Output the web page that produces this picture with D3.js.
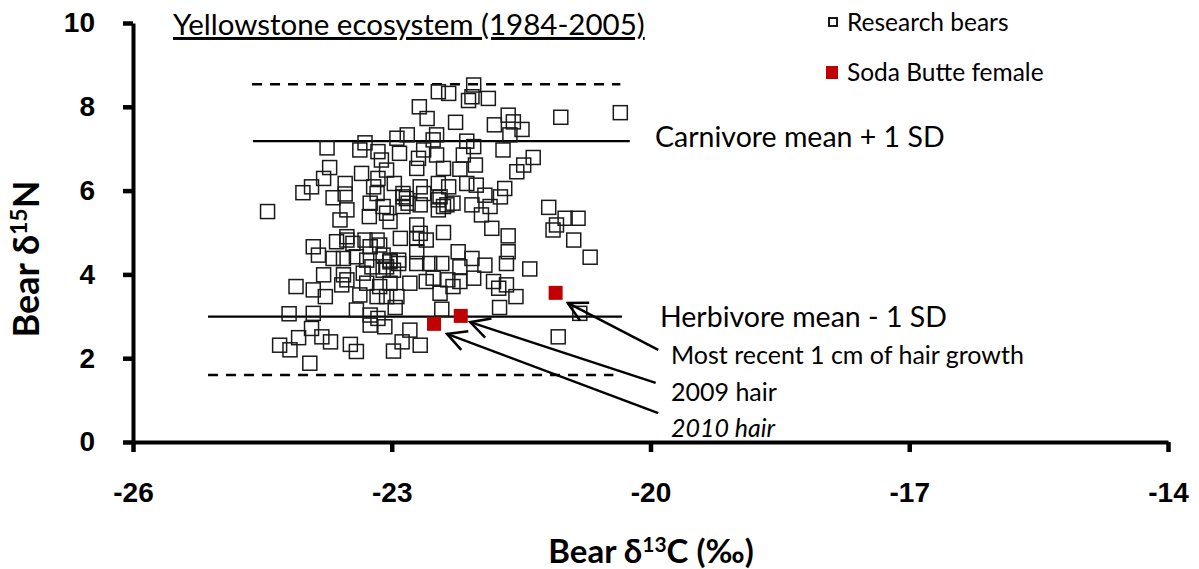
<!DOCTYPE html>
<html>
<head>
<meta charset="utf-8">
<script src="https://cdn.jsdelivr.net/npm/d3@7"></script>
<style>
  body { margin: 0; background: #fff; }
  svg { display: block; }
</style>
</head>
<body>
<svg id="chart" width="1199" height="569"></svg>
<script>
// research bears, d13C (x) and d15N (y)
var bearC = [
  -22.05, -22.46, -22.34, -22.07, -22.11, -21.88, -22.68, -22.59, -22.26, -21.81,
  -21.65, -21.59, -21.49, -21.63, -21.04, -20.35, -23.75, -23.31, -23.37, -23.16,
  -22.94, -22.82, -22.91, -22.63, -22.52, -22.48, -22.48, -22.13, -22.05, -22.17,
  -21.71, -21.36, -21.47, -21.55, -23.12, -23.06, -22.69, -22.71, -22.40, -22.21,
  -22.03, -23.72, -23.79, -23.93, -24.03, -23.54, -23.54, -23.35, -23.21, -23.16,
  -22.97, -22.87, -22.83, -22.67, -22.63, -22.46, -22.44, -22.40, -22.34, -22.29,
  -22.13, -22.02, -21.92, -21.69, -21.74, -21.86, -22.07, -22.87, -22.67, -23.10,
  -23.25, -23.52, -23.68, -24.44, -23.60, -23.26, -23.06, -23.02, -22.71, -22.67,
  -22.40, -21.96, -21.84, -21.65, -21.18, -20.99, -20.84, -21.09, -21.13, -20.89,
  -20.70, -23.91, -23.85, -23.64, -23.52, -23.45, -23.31, -23.17, -23.14, -23.25,
  -22.90, -22.71, -22.60, -23.68, -23.56, -23.41, -23.29, -23.10, -23.02, -22.92,
  -22.98, -23.10, -23.23, -22.71, -22.71, -22.56, -22.42, -22.23, -22.07, -22.21,
  -21.92, -21.65, -21.67, -21.40, -23.79, -23.56, -23.52, -23.58, -23.33, -23.29,
  -23.14, -23.02, -22.79, -22.60, -22.52, -22.35, -22.29, -22.21, -22.05, -21.82,
  -21.67, -21.76, -24.11, -23.91, -23.77, -23.37, -23.17, -23.06, -22.94, -22.44,
  -21.56, -24.19, -23.91, -23.41, -23.25, -23.16, -22.96, -22.42, -21.75, -23.25,
  -23.08, -23.93, -24.08, -23.81, -23.71, -24.30, -24.18, -23.48, -23.41, -22.98,
  -22.88, -22.79, -22.67, -21.07, -20.82, -23.95, -22.87, -22.81, -22.46, -22.46,
  -22.36, -23.02, -22.92, -23.06, -23.52, -23.17
];
var bearN = [
  8.52, 8.36, 8.32, 8.24, 8.15, 8.20, 8.00, 7.72, 7.63, 7.57,
  7.80, 7.64, 7.46, 7.33, 7.75, 7.86, 7.02, 7.14, 6.97, 6.93,
  7.25, 7.33, 6.89, 6.97, 7.21, 7.33, 6.85, 7.18, 7.05, 6.85,
  6.97, 6.79, 6.61, 6.45, 6.73, 6.49, 6.77, 6.53, 6.53, 6.51,
  6.61, 6.55, 6.29, 6.09, 5.95, 6.17, 5.92, 6.41, 6.09, 6.29,
  6.17, 5.93, 5.81, 6.09, 5.93, 6.17, 5.85, 5.62, 6.09, 5.70,
  6.17, 6.13, 5.89, 6.05, 5.85, 5.62, 5.66, 5.62, 5.66, 5.62,
  5.70, 5.54, 5.83, 5.50, 5.30, 5.38, 5.46, 5.26, 5.18, 4.98,
  5.00, 5.42, 5.10, 4.92, 5.60, 5.34, 5.34, 5.18, 5.06, 4.82,
  4.41, 4.66, 4.46, 4.78, 4.82, 4.74, 4.82, 4.82, 4.70, 4.66,
  4.86, 4.86, 4.82, 4.38, 4.38, 4.42, 4.34, 4.46, 4.34, 4.26,
  4.10, 4.10, 4.18, 4.54, 4.26, 4.26, 4.26, 4.54, 4.38, 4.18,
  4.22, 4.54, 4.26, 4.13, 3.99, 3.99, 3.87, 3.75, 4.03, 3.79,
  3.71, 3.79, 3.79, 3.83, 3.91, 3.87, 3.71, 3.83, 3.91, 3.83,
  3.75, 3.67, 3.71, 3.63, 3.47, 3.51, 3.47, 3.47, 3.47, 3.55,
  3.47, 3.06, 3.07, 3.15, 3.03, 2.95, 3.21, 3.17, 3.21, 2.79,
  2.75, 2.71, 2.49, 2.51, 2.39, 2.31, 2.20, 2.33, 2.16, 2.17,
  2.39, 2.67, 2.31, 2.51, 3.07, 1.88, 5.85, 5.70, 5.78, 5.54,
  5.66, 4.30, 4.34, 4.18, 4.90, 5.93
];

// Soda Butte female
var sodaLabels = ["Most recent 1 cm of hair growth", "2009 hair", "2010 hair"];
var sodaC = [-21.10, -22.20, -22.51];
var sodaN = [3.56, 3.01, 2.82];

// reference lines (d15N level, x start, x end)
var refNames = ["Carnivore mean + 1 SD upper", "Carnivore mean + 1 SD", "Herbivore mean - 1 SD", "Herbivore mean - 1 SD lower"];
var refN = [8.54, 7.18, 2.99, 1.60];
var refFrom = [-24.62, -24.61, -25.13, -25.13];
var refTo = [-20.35, -20.24, -20.33, -20.43];
var refDashed = [true, false, false, true];

// arrow annotations: label end -> tip
var arrowFromC = [-19.91, -19.94, -19.91];
var arrowFromN = [2.20, 1.41, 0.69];
var arrowToC = [-20.96, -22.09, -22.36];
var arrowToN = [3.32, 2.86, 2.58];

var xTicks = [-26, -23, -20, -17, -14];
var yTicks = [0, 2, 4, 6, 8, 10];

var svg = d3.select("#chart");

var x = d3.scaleLinear()
    .domain([-26, -14])
    .range([133, 1168]);

var y = d3.scaleLinear()
    .domain([0, 10])
    .range([442, 23]);

var bears = bearC.map(function(c, i) { return {c: c, n: bearN[i]}; });
var soda = sodaC.map(function(c, i) { return {c: c, n: sodaN[i], label: sodaLabels[i]}; });
var refs = refN.map(function(n, i) {
    return {name: refNames[i], n: n, from: refFrom[i], to: refTo[i], dashed: refDashed[i]};
});

// reference lines
svg.selectAll(".ref")
    .data(refs)
    .enter().append("line")
    .attr("class", "ref")
    .attr("x1", function(d) { return x(d.from); })
    .attr("x2", function(d) { return x(d.to); })
    .attr("y1", function(d) { return y(d.n); })
    .attr("y2", function(d) { return y(d.n); })
    .style("stroke", "#000")
    .style("stroke-width", function(d) { return d.dashed ? 2.5 : 2.2; })
    .style("stroke-dasharray", function(d) { return d.dashed ? "10,8" : null; });

// research bears
svg.selectAll(".dot")
    .data(bears)
    .enter().append("rect")
    .attr("class", "dot")
    .attr("x", function(d) { return x(d.c) - 7; })
    .attr("y", function(d) { return y(d.n) - 7; })
    .attr("width", 14)
    .attr("height", 14)
    .style("fill", "none")
    .style("stroke", "#1a1a1a")
    .style("stroke-width", 1.5);

// soda butte female
svg.selectAll(".soda")
    .data(soda)
    .enter().append("rect")
    .attr("class", "soda")
    .attr("x", function(d) { return x(d.c) - 7; })
    .attr("y", function(d) { return y(d.n) - 7; })
    .attr("width", 14)
    .attr("height", 14)
    .style("fill", "#c00000");

// arrows
svg.append("defs").append("marker")
    .attr("id", "head")
    .attr("markerUnits", "userSpaceOnUse")
    .attr("viewBox", "-22 -12 24 24")
    .attr("refX", 0)
    .attr("refY", 0)
    .attr("markerWidth", 24)
    .attr("markerHeight", 24)
    .attr("orient", "auto")
    .append("path")
    .attr("d", "M-19,-10L0,0L-19,10")
    .style("fill", "none")
    .style("stroke", "#000")
    .style("stroke-width", 2.5);

svg.selectAll(".arrow")
    .data(arrowFromC)
    .enter().append("line")
    .attr("class", "arrow")
    .attr("x1", function(d) { return x(d); })
    .attr("y1", function(d, i) { return y(arrowFromN[i]); })
    .attr("x2", function(d, i) { return x(arrowToC[i]); })
    .attr("y2", function(d, i) { return y(arrowToN[i]); })
    .attr("marker-end", "url(#head)")
    .style("stroke", "#000")
    .style("stroke-width", 2.5);

// axes
var xAxis = d3.axisBottom(x).tickValues(xTicks).tickFormat(function(d) { return "" + d; })
    .tickSize(10).tickPadding(30).tickSizeOuter(0);
var yAxis = d3.axisLeft(y).tickValues(yTicks).tickFormat(function(d) { return "" + d; })
    .tickSize(10).tickPadding(28).tickSizeOuter(0);

var gx = svg.append("g")
    .attr("class", "x axis")
    .attr("transform", "translate(0," + y(0) + ")")
    .call(xAxis);

var gy = svg.append("g")
    .attr("class", "y axis")
    .attr("transform", "translate(" + x(-26) + ",0)")
    .call(yAxis);

svg.selectAll(".axis path").style("stroke", "#000").style("stroke-width", 4);
svg.selectAll(".axis line").style("stroke", "#000").style("stroke-width", 4.5);
svg.selectAll(".axis text")
    .style("font-family", "'Liberation Sans', Arial, sans-serif")
    .style("font-weight", "bold")
    .style("font-size", "28px")
    .style("fill", "#000");
gx.selectAll("text").attr("dy", "0.71em");

// axis titles
var xt = svg.append("text")
    .attr("x", 651)
    .attr("y", 563)
    .style("text-anchor", "middle")
    .style("font-family", "Lato, sans-serif")
    .style("font-weight", "bold")
    .style("font-size", "33px");
xt.append("tspan").text("Bear \u03b4");
xt.append("tspan").attr("dy", -11).style("font-size", "21px").text("13");
xt.append("tspan").attr("dy", 11).text("C (\u2030)");

var yt = svg.append("text")
    .attr("transform", "translate(39,259) rotate(-90)")
    .style("text-anchor", "middle")
    .style("font-family", "Lato, sans-serif")
    .style("font-weight", "bold")
    .style("font-size", "36px");
yt.append("tspan").text("Bear \u03b4");
yt.append("tspan").attr("dy", -12).style("font-size", "23px").text("15");
yt.append("tspan").attr("dy", 12).text("N");

// title
svg.append("text")
    .attr("x", 173)
    .attr("y", 35)
    .style("font-family", "Lato, sans-serif")
    .style("font-size", "29.5px")
    .style("text-decoration", "underline")
    .text("Yellowstone ecosystem (1984-2005)");

// reference line labels
svg.append("text")
    .attr("x", 655)
    .attr("y", 147)
    .style("font-family", "Lato, sans-serif")
    .style("font-size", "28.5px")
    .text("Carnivore mean + 1 SD");

svg.append("text")
    .attr("x", 660)
    .attr("y", 327)
    .style("font-family", "Lato, sans-serif")
    .style("font-size", "28.5px")
    .text("Herbivore mean - 1 SD");

// arrow labels
svg.selectAll(".alabel")
    .data(soda)
    .enter().append("text")
    .attr("class", "alabel")
    .attr("x", 671)
    .attr("y", function(d, i) { return 364 + i * 36.5; })
    .style("font-family", "Lato, sans-serif")
    .style("font-size", "25px")
    .style("font-style", function(d, i) { return i == 2 ? "italic" : "normal"; })
    .text(function(d) { return d.label; });

// legend
var legend = svg.append("g").attr("class", "legend");

legend.append("rect")
    .attr("x", 829)
    .attr("y", 18)
    .attr("width", 8)
    .attr("height", 8)
    .style("fill", "none")
    .style("stroke", "#000")
    .style("stroke-width", 1.8);

legend.append("text")
    .attr("x", 847)
    .attr("y", 31)
    .style("font-family", "Lato, sans-serif")
    .style("font-size", "24.5px")
    .text("Research bears");

legend.append("rect")
    .attr("x", 826)
    .attr("y", 66)
    .attr("width", 12)
    .attr("height", 13)
    .style("fill", "#c00000");

legend.append("text")
    .attr("x", 847)
    .attr("y", 81)
    .style("font-family", "Lato, sans-serif")
    .style("font-size", "24.5px")
    .text("Soda Butte female");
</script>
</body>
</html>
